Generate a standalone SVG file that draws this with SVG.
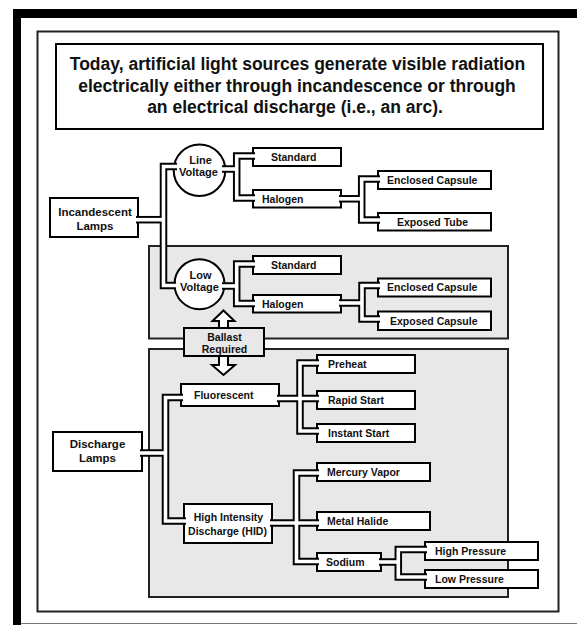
<svg xmlns="http://www.w3.org/2000/svg" xmlns:xlink="http://www.w3.org/1999/xlink" width="577" height="625" viewBox="0 0 577 625">
<style>
  text { font-family: "Liberation Sans", Arial, sans-serif; font-weight: bold; fill: #111; }
  .t { font-size: 10.5px; }
  .t2 { font-size: 11.5px; text-anchor: middle; }
  .tc { font-size: 11px; text-anchor: middle; }
  .title { font-size: 17.5px; text-anchor: middle; }
  .box { fill: #fff; stroke: #000; stroke-width: 2; }
  .region { fill: #e8e8e8; stroke: #222; stroke-width: 2; }
  .pipe-out { fill: none; stroke: #000; stroke-width: 7.5; stroke-linejoin: miter; stroke-linecap: butt; }
  .pipe-in { fill: none; stroke: #fff; stroke-width: 3.6; stroke-linejoin: miter; stroke-linecap: butt; }
  .arrow { fill: #fff; stroke: #000; stroke-width: 2; stroke-linejoin: miter; }
</style>
<defs>
  <g id="pipes">
    <path d="M136,219.7 H163.5"/>
    <path d="M177,166.5 H163.5 V285.5 H176"/>
    <path d="M222,169 H236.7"/>
    <path d="M255,156 H236.7 V198 H255"/>
    <path d="M339,198.8 H361.7"/>
    <path d="M380,179 H361.7 V220 H380"/>
    <path d="M222,286 H236.7"/>
    <path d="M255,264 H236.7 V303.5 H255"/>
    <path d="M339,303 H362"/>
    <path d="M380,285.5 H362 V319 H380"/>
    <path d="M140,453 H165.5"/>
    <path d="M183,397.5 H165.5 V521 H186"/>
    <path d="M277,398.5 H319"/>
    <path d="M319,363 H300 V431 H319"/>
    <path d="M270,523 H319"/>
    <path d="M319,473 H296.5 V561.5 H319"/>
    <path d="M379,562 H398.3"/>
    <path d="M427,549.5 H398.3 V577 H427"/>
  </g>
</defs>

<!-- page frame -->
<rect x="0" y="0" width="577" height="625" fill="#fff"/>
<rect x="13" y="9" width="564" height="9" fill="#000"/>
<rect x="13" y="9" width="8" height="616" fill="#000"/>
<line x1="21" y1="623.5" x2="577" y2="623.5" stroke="#777" stroke-width="1.2"/>
<rect x="37.5" y="31.5" width="521" height="580" fill="none" stroke="#222" stroke-width="2"/>

<!-- title -->
<g id="title">
  <rect class="box" x="56" y="44" width="487" height="85"/>
  <text class="title" x="297.5" y="70">Today, artificial light sources generate visible radiation</text>
  <text class="title" x="297" y="91.5">electrically either through incandescence or through</text>
  <text class="title" x="295" y="112.5">an electrical discharge (i.e., an arc).</text>
</g>

<!-- shaded regions -->
<rect id="low-voltage-region" class="region" x="149" y="246" width="359" height="92.5"/>
<rect id="discharge-region" class="region" x="149" y="349" width="359" height="248"/>

<!-- nodes -->
<g id="incandescent">
  <rect class="box" x="50" y="198" width="88" height="39"/>
  <text class="t2" x="95" y="215.5">Incandescent</text>
  <text class="t2" x="95" y="229.5">Lamps</text>
</g>
<g id="line-voltage">
  <circle cx="199.5" cy="170.3" r="25.8" fill="#fff" stroke="#000" stroke-width="2"/>
  <text class="tc" x="200.5" y="163.5">Line</text>
  <text class="tc" x="198.5" y="175.5">Voltage</text>
</g>
<g id="standard-1">
  <rect class="box" x="253" y="148" width="88" height="18"/>
  <text class="t" x="271" y="160.8">Standard</text>
</g>
<g id="halogen-1">
  <rect class="box" x="253" y="190" width="88" height="17.5"/>
  <text class="t" x="262" y="202.5">Halogen</text>
</g>
<g id="enclosed-capsule-1">
  <rect class="box" x="378" y="171" width="113" height="18"/>
  <text class="t" x="387" y="183.8">Enclosed Capsule</text>
</g>
<g id="exposed-tube">
  <rect class="box" x="378" y="213" width="113" height="17.5"/>
  <text class="t" x="397" y="225.5">Exposed Tube</text>
</g>
<g id="low-voltage">
  <circle cx="199.5" cy="284.2" r="25" fill="#fff" stroke="#000" stroke-width="2"/>
  <text class="tc" x="200.5" y="279">Low</text>
  <text class="tc" x="199.5" y="290.7">Voltage</text>
</g>
<g id="standard-2">
  <rect class="box" x="253" y="256" width="88" height="18"/>
  <text class="t" x="271" y="268.8">Standard</text>
</g>
<g id="halogen-2">
  <rect class="box" x="253" y="295" width="88" height="17.5"/>
  <text class="t" x="262" y="307.5">Halogen</text>
</g>
<g id="enclosed-capsule-2">
  <rect class="box" x="378" y="278.5" width="113" height="18"/>
  <text class="t" x="387" y="291.3">Enclosed Capsule</text>
</g>
<g id="exposed-capsule">
  <rect class="box" x="378" y="311.5" width="113" height="18.5"/>
  <text class="t" x="390" y="324.5">Exposed Capsule</text>
</g>
<g id="discharge">
  <rect class="box" x="53" y="432" width="89" height="39"/>
  <text class="t2" x="97.5" y="447.5">Discharge</text>
  <text class="t2" x="97.5" y="461.5">Lamps</text>
</g>
<g id="fluorescent">
  <rect class="box" x="181" y="384" width="98" height="22"/>
  <text class="t" x="194" y="398.8">Fluorescent</text>
</g>
<g id="preheat">
  <rect class="box" x="317" y="355" width="98" height="18"/>
  <text class="t" x="328" y="367.8">Preheat</text>
</g>
<g id="rapid-start">
  <rect class="box" x="317" y="391" width="98" height="18"/>
  <text class="t" x="328" y="403.8">Rapid Start</text>
</g>
<g id="instant-start">
  <rect class="box" x="317" y="424" width="98" height="18"/>
  <text class="t" x="328" y="436.8">Instant Start</text>
</g>
<g id="mercury-vapor">
  <rect class="box" x="317" y="463" width="113" height="18"/>
  <text class="t" x="327" y="475.8">Mercury Vapor</text>
</g>
<g id="hid">
  <rect class="box" x="184" y="504" width="88" height="39"/>
  <text class="t" x="228.5" y="520.5" text-anchor="middle">High Intensity</text>
  <text class="t" x="227.5" y="535" text-anchor="middle">Discharge (HID)</text>
</g>
<g id="metal-halide">
  <rect class="box" x="317" y="512" width="113" height="18"/>
  <text class="t" x="327" y="524.8">Metal Halide</text>
</g>
<g id="sodium">
  <rect class="box" x="317" y="553" width="64" height="18"/>
  <text class="t" x="326" y="565.8">Sodium</text>
</g>
<g id="high-pressure">
  <rect class="box" x="425" y="542" width="113" height="18"/>
  <text class="t" x="435" y="554.8">High Pressure</text>
</g>
<g id="low-pressure">
  <rect class="box" x="425" y="570" width="113" height="18"/>
  <text class="t" x="435" y="582.8">Low Pressure</text>
</g>

<!-- connectors -->
<g id="connectors">
  <use xlink:href="#pipes" href="#pipes" class="pipe-out"/>
  <use xlink:href="#pipes" href="#pipes" class="pipe-in"/>
</g>

<g id="ballast">
  <rect x="184" y="328" width="80" height="28" fill="#e8e8e8" stroke="#000" stroke-width="2"/>
  <text class="t" x="224.5" y="341" text-anchor="middle">Ballast</text>
  <text class="t" x="224.5" y="352.5" text-anchor="middle">Required</text>
</g>
<g id="ballast-arrows">
  <polygon class="arrow" points="223.5,310.5 234.5,321 228,321 228,328 219,328 219,321 212.5,321"/>
  <polygon class="arrow" points="219,356 228,356 228,365 235,365 223.5,375 212,365 219,365"/>
</g>
</svg>
